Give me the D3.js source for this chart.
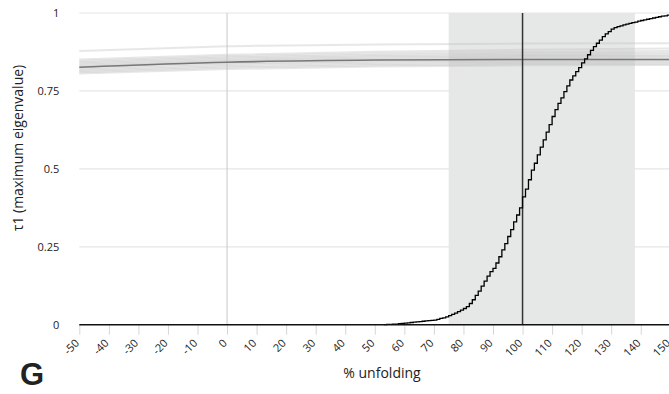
<!DOCTYPE html>
<html><head><meta charset="utf-8">
<script src="https://cdn.jsdelivr.net/npm/d3@7"></script>
<style>
body{margin:0;background:#fff;}
svg{display:block;}
text{font-family:"Open Sans",sans-serif;fill:#222;}
</style></head>
<body><svg id="c" width="669" height="394"></svg>
<script>
// x ticks, y ticks
const xTicks = [-50,-40,-30,-20,-10,0,10,20,30,40,50,60,70,80,90,100,110,120,130,140,150];
const yTicks = [0,0.25,0.5,0.75,1];
const yTickLabels = ["0","0.25","0.5","0.75","1"];
// shaded interval and reference line
const band = [75,138];
const refLine = 100;
// step CDF: x positions and cumulative values
const cdfX = [53,54,55,56,57,58,59,60,61,62,63,64,65,66,67,68,69,70,71,72,73,74,75,76,77,78,79,80,81,82,83,84,85,86,87,88,89,90,91,92,93,94,95,96,97,98,99,100,101,102,103,104,105,106,107,108,109,110,111,112,113,114,115,116,117,118,119,120,121,122,123,124,125,126,127,128,129,130,131,132,133,134,135,136,137,138,139,140,141,142,143,144,145,146,147,148,149,150];
const cdfY = [0.000,0.001,0.001,0.002,0.002,0.003,0.004,0.005,0.006,0.007,0.008,0.009,0.010,0.011,0.012,0.013,0.014,0.015,0.017,0.020,0.022,0.025,0.029,0.033,0.037,0.042,0.047,0.052,0.058,0.068,0.080,0.094,0.108,0.124,0.140,0.156,0.170,0.181,0.198,0.218,0.240,0.260,0.283,0.305,0.330,0.352,0.375,0.410,0.435,0.465,0.496,0.518,0.545,0.570,0.593,0.618,0.642,0.668,0.690,0.710,0.728,0.748,0.766,0.785,0.798,0.812,0.825,0.840,0.853,0.866,0.880,0.892,0.903,0.913,0.924,0.933,0.940,0.948,0.953,0.956,0.959,0.962,0.964,0.967,0.969,0.971,0.974,0.976,0.978,0.980,0.982,0.984,0.986,0.988,0.990,0.991,0.993,0.995];
// tau1 curves sampled at these x positions
const tauX = [-50,0,50,100,150];
const tauMean = [0.826,0.842,0.849,0.851,0.851];
const tauRuns = [
  [0.878,0.893,0.899,0.902,0.903],
  [0.851,0.866,0.876,0.882,0.886],
  [0.846,0.861,0.870,0.875,0.878],
  [0.842,0.857,0.865,0.870,0.872],
  [0.838,0.853,0.861,0.865,0.866],
  [0.834,0.849,0.857,0.861,0.862],
  [0.830,0.846,0.853,0.857,0.858],
  [0.826,0.842,0.849,0.852,0.853],
  [0.822,0.838,0.845,0.848,0.849],
  [0.818,0.834,0.841,0.844,0.845],
  [0.814,0.829,0.836,0.840,0.841],
  [0.810,0.825,0.832,0.836,0.837],
  [0.806,0.820,0.828,0.832,0.833]
];

const svg = d3.select("#c");
const x = d3.scaleLinear().domain([-50,150]).range([79.3,670.3]);
const y = d3.scaleLinear().domain([0,1]).range([324.7,13]);
const x0 = x(-50), x1 = x(150);

// grid
svg.append("g").selectAll("line").data(yTicks.filter(d=>d>0)).join("line")
  .attr("x1",x0).attr("x2",x1).attr("y1",d=>y(d)).attr("y2",d=>y(d))
  .attr("stroke","#e6e6e6").attr("stroke-width",1.2);

// band
svg.append("rect").attr("x",x(band[0])).attr("width",x(band[1])-x(band[0]))
  .attr("y",y(1)).attr("height",y(0)-y(1)).attr("fill","#e6e7e7");

// vertical line at 0
svg.append("line").attr("x1",x(0)).attr("x2",x(0)).attr("y1",y(1)).attr("y2",y(0))
  .attr("stroke","#c8c8c8").attr("stroke-width",1);

// tau runs
const tl = d3.line().x((d,i)=>x(tauX[i])).y(d=>y(d)).curve(d3.curveMonotoneX);
svg.append("g").selectAll("path").data(tauRuns).join("path")
  .attr("d",tl).attr("fill","none").attr("stroke","#c0c0c0")
  .attr("stroke-opacity",0.38).attr("stroke-width",2);
svg.append("path").datum(tauMean).attr("d",tl).attr("fill","none")
  .attr("stroke","#777").attr("stroke-width",1.6);

// ref line
svg.append("line").attr("x1",x(refLine)).attr("x2",x(refLine)).attr("y1",y(1)).attr("y2",y(0))
  .attr("stroke","#333").attr("stroke-width",1.5);

// step cdf
const sl = d3.line().x((d,i)=>x(cdfX[i])).y(d=>y(d)).curve(d3.curveStepAfter);
svg.append("path").datum(cdfY).attr("d",sl).attr("fill","none")
  .attr("stroke","#000").attr("stroke-width",1.3);

// x axis
const xa = svg.append("g").attr("transform",`translate(0,${y(0)})`)
  .call(d3.axisBottom(x).tickValues(xTicks).tickSize(10).tickFormat(d=>String(d)));
xa.select(".domain").remove();
xa.selectAll(".tick line").attr("stroke","#d6d6d6");
xa.selectAll(".tick text").attr("transform","translate(-9,10) rotate(-45)")
  .attr("text-anchor","end").attr("dy","0.35em").attr("y",9).attr("x",0)
  .style("font-size","11px").style("font-family","'Open Sans',sans-serif").attr("fill","#222");
svg.append("line").attr("x1",x0).attr("x2",x1).attr("y1",y(0)).attr("y2",y(0))
  .attr("stroke","#111").attr("stroke-width",1.6);

// y axis labels
const ya = svg.append("g").attr("transform",`translate(${x0},0)`)
  .call(d3.axisLeft(y).tickValues(yTicks).tickSize(0).tickPadding(20).tickFormat((d,i)=>yTickLabels[i]));
ya.select(".domain").remove();
ya.selectAll(".tick text").style("font-size","11px").style("font-family","'Open Sans',sans-serif").attr("fill","#222");

// titles
svg.append("text").attr("x",382).attr("y",378).attr("text-anchor","middle")
  .style("font-size","14px").text("% unfolding");
svg.append("text").attr("transform","translate(23,148) rotate(-90)").attr("text-anchor","middle")
  .style("font-size","14px").text("τ1 (maximum eigenvalue)");
svg.append("text").attr("x",20).attr("y",385)
  .style("font-family","'Liberation Sans',Arial,sans-serif").style("font-weight","bold")
  .style("font-size","31px").attr("fill","#000").text("G");
</script></body></html>
